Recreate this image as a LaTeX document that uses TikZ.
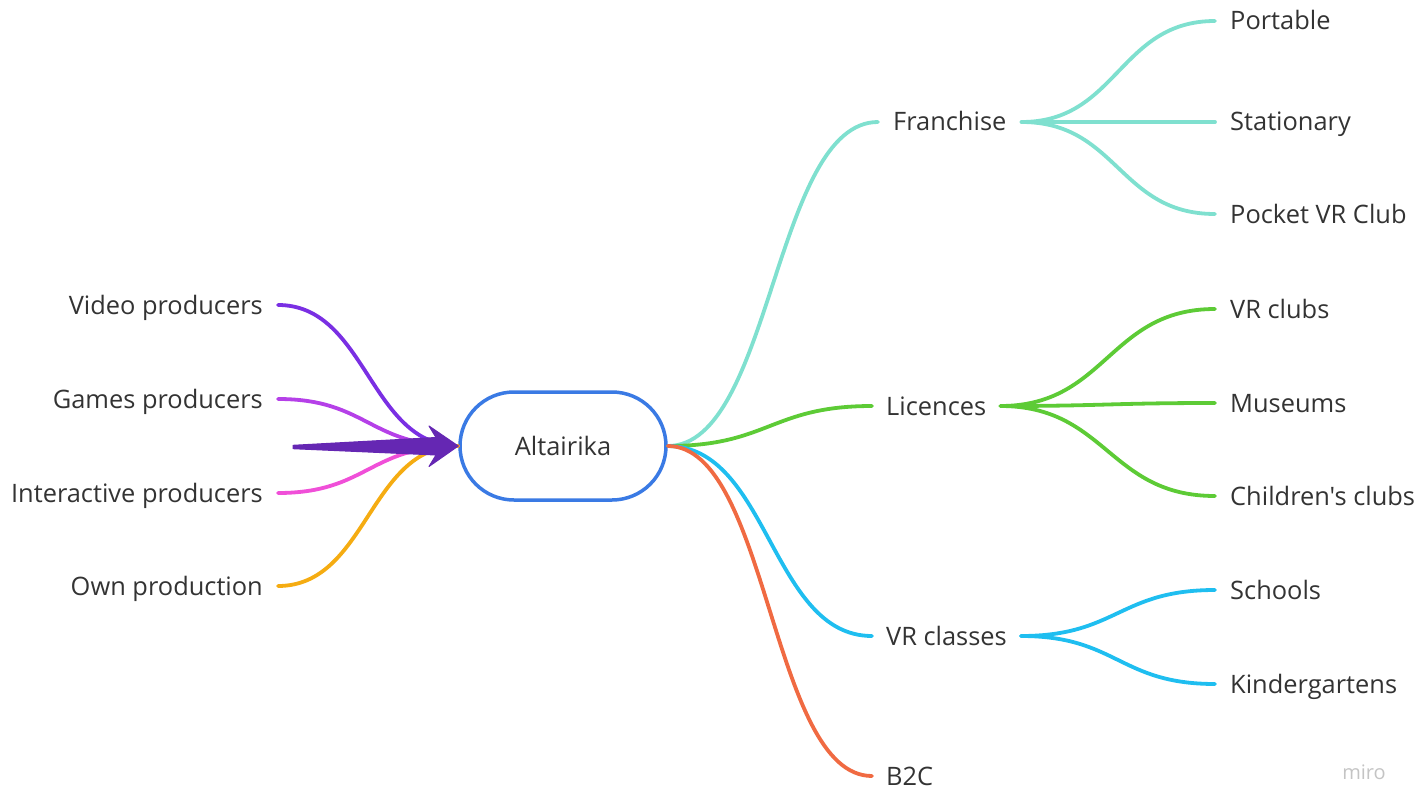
\documentclass[tikz,border=0pt]{standalone}
\usepackage{fontspec}
\newfontfamily\osans{Open Sans}
\definecolor{textc}{HTML}{333333}
\definecolor{videoc}{HTML}{7A2FE3}
\definecolor{gamesc}{HTML}{B540E8}
\definecolor{interc}{HTML}{F04FD8}
\definecolor{ownc}{HTML}{F5AC12}
\definecolor{arrowc}{HTML}{6527B3}
\definecolor{rootc}{HTML}{3A7AE4}
\definecolor{franc}{HTML}{7FE0CF}
\definecolor{licc}{HTML}{5DCB36}
\definecolor{vrc}{HTML}{1FBEF0}
\definecolor{b2cc}{HTML}{F06A42}
\definecolor{miroc}{HTML}{C4C4C4}
\begin{document}
\begin{tikzpicture}[x=1pt,y=-1pt,
  lbl/.style={font=\osans\fontsize{25.4}{30}\selectfont, text=textc, inner ysep=0pt,
    inner xsep=15pt, text height=18pt, text depth=0pt},
  conn/.style={line width=3.8pt, line cap=round},
  rootbox/.style={draw=rootc, line width=3.5pt, fill=white, rounded corners=54pt,
    minimum width=206pt, minimum height=108pt, inner sep=0pt,
    font=\osans\fontsize{25.4}{30}\selectfont, text=textc}
]
\useasboundingbox (0,0) rectangle (1421,789);

% root
\node[rootbox] (root) at (563,446) {\raisebox{0pt}[18pt][0pt]{Altairika}};

% left nodes
\node[lbl, anchor=east] (video) at (278,305) {Video producers};
\node[lbl, anchor=east] (games) at (278,399) {Games producers};
\node[lbl, anchor=east] (inter) at (278,493) {Interactive producers};
\node[lbl, anchor=east] (own)   at (278,586) {Own production};

% right first level
\node[lbl, anchor=west] (fran) at (878,122) {Franchise};
\node[lbl, anchor=west, inner xsep=14pt] (lic) at (872,406) {Licences};
\node[lbl, anchor=west, inner xsep=14pt] (vrcl) at (872,636) {VR classes};
\node[lbl, anchor=west, inner xsep=14pt] (b2c) at (872,776) {B2C};

% second level
\node[lbl, anchor=west] (portable) at (1215,21) {Portable};
\node[lbl, anchor=west] (stat) at (1215,122) {Stationary};
\node[lbl, anchor=west] (pocket) at (1215,214) {Pocket VR Club};
\node[lbl, anchor=west] (vrclubs) at (1215,309) {VR clubs};
\node[lbl, anchor=west] (museums) at (1215,403) {Museums};
\node[lbl, anchor=west] (child) at (1215,496) {Children's clubs};
\node[lbl, anchor=west] (schools) at (1215,590) {Schools};
\node[lbl, anchor=west] (kinder) at (1215,684) {Kindergartens};

% watermark
\node[font=\osans\fontsize{20}{23}\selectfont, text=miroc, inner sep=0pt] (miro) at (1364,772) {miro};

% left connectors
\draw[conn, videoc] (video.east) .. controls +(89,0) and +(-89,0) .. (root.west);
\draw[conn, gamesc] (games.east) .. controls +(89,0) and +(-89,0) .. (root.west);
\draw[conn, interc] (inter.east) .. controls +(89,0) and +(-89,0) .. (root.west);
\draw[conn, ownc] (own.east) .. controls +(89,0) and +(-89,0) .. (root.west);

% big arrow
\coordinate (tail) at (293,447);
\fill[arrowc, draw=arrowc, line width=1pt, line join=round]
  (293,445.3) -- (436,437.5) -- (429,426) -- (root.west) -- (429,466.5) -- (436,455) -- (293,448.7) -- cycle;

% right connectors
\draw[conn, franc] (root.east) .. controls +(104,0) and +(-104,0) .. (fran.west);
\draw[conn, licc] (root.east) .. controls +(101,0) and +(-101,0) .. (lic.west);
\draw[conn, vrc] (root.east) .. controls +(101,0) and +(-101,0) .. (vrcl.west);
\draw[conn, b2cc] (root.east) .. controls +(101,0) and +(-101,0) .. (b2c.west);

% second-level connectors
\draw[conn, franc] (fran.east) .. controls +(96,0) and +(-96,0) .. (portable.west);
\draw[conn, franc] (fran.east) .. controls +(96,0) and +(-96,0) .. (stat.west);
\draw[conn, franc] (fran.east) .. controls +(96,0) and +(-96,0) .. (pocket.west);
\draw[conn, licc] (lic.east) .. controls +(106,0) and +(-106,0) .. (vrclubs.west);
\draw[conn, licc] (lic.east) .. controls +(106,0) and +(-106,0) .. (museums.west);
\draw[conn, licc] (lic.east) .. controls +(106,0) and +(-106,0) .. (child.west);
\draw[conn, vrc] (vrcl.east) .. controls +(96,0) and +(-96,0) .. (schools.west);
\draw[conn, vrc] (vrcl.east) .. controls +(96,0) and +(-96,0) .. (kinder.west);
\end{tikzpicture}
\end{document}
